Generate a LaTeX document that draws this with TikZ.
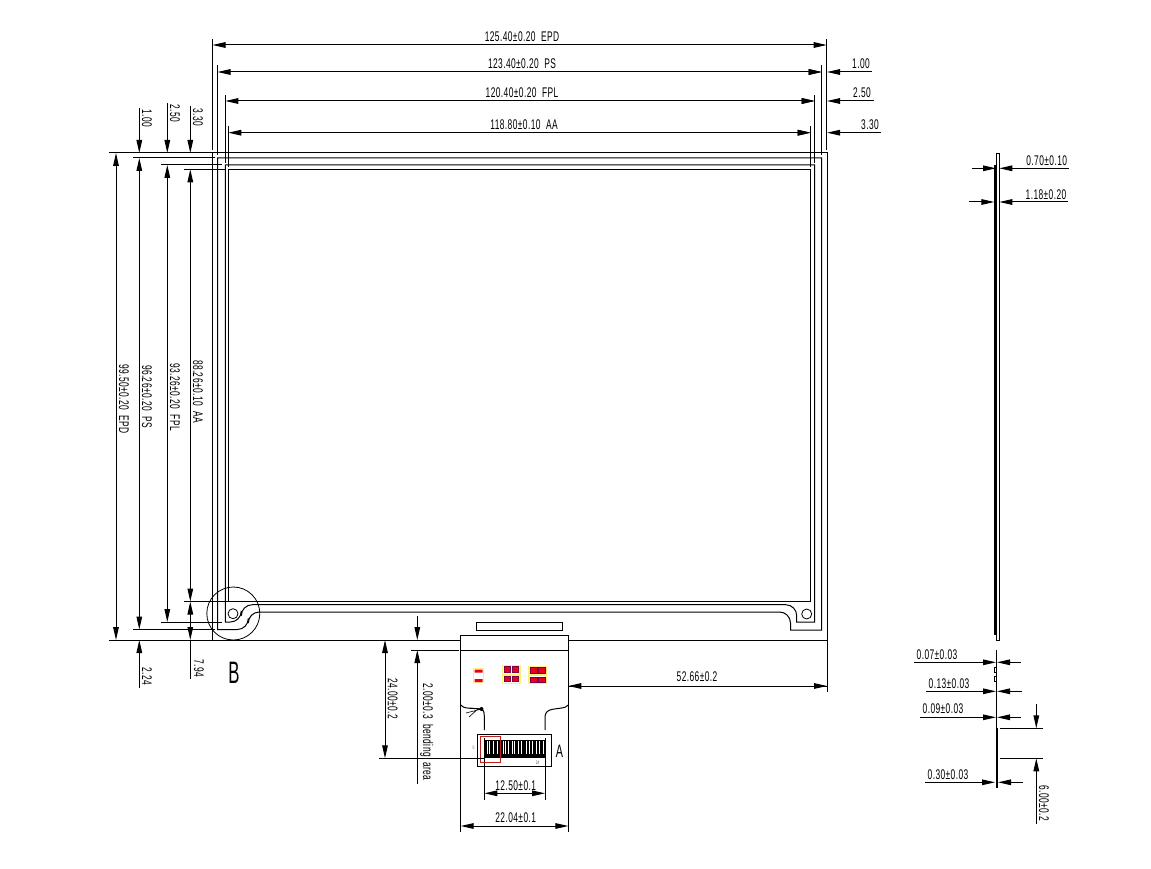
\documentclass[tikz,border=0pt]{standalone}
\usepackage{fontspec}
\usepackage{graphicx}
\setmainfont[FakeStretch=0.6,LetterSpace=3,WordSpace=2]{Liberation Sans}
\usetikzlibrary{arrows.meta}
\definecolor{padred}{RGB}{230,0,30}
\definecolor{padedge}{RGB}{120,0,70}
\definecolor{padglow}{RGB}{255,240,120}
\definecolor{markred}{RGB}{190,30,30}
\tikzset{
outline/.style={line width=1pt},
dimtext/.style={inner sep=0pt,font=\fontsize{14}{14}\selectfont},
dimdown/.style={dimtext,rotate=-90},
bigletter/.style={inner sep=0pt,font=\fontsize{31}{31}\selectfont},
padglowbox/.style={draw=padglow,line width=1.2pt},
padbox/.style={fill=padred,draw=padedge,line width=0.5pt},
}
\begin{document}
\begin{tikzpicture}[x=1pt,y=-1pt,>={Triangle[length=13pt,width=5.6pt]},line width=1pt]
\useasboundingbox (0,0) rectangle (1151,869);
% the panel outlines
\draw[outline] (212.5,153) -- (827,153) -- (827,640);
\draw[outline] (212.5,153) -- (212.5,640);
\draw[outline] (217.5,158) -- (821.7,158) -- (821.7,630) -- (790.5,630)
  [rounded corners=11pt] -- (790.5,612) -- (248.3,612) -- (248.3,629.5) [sharp corners] -- (217.5,629.5) -- cycle;
\draw[outline] (225.3,165) -- (814.7,165) -- (814.7,622) -- (796.7,622)
  [rounded corners=11pt] -- (796.7,604.7) -- (241.3,604.7) -- (241.3,622) [sharp corners] -- (225.3,622) -- cycle;
\draw[outline] (228.3,169.3) rectangle (810.7,601.5);
\node[draw,circle,minimum size=10pt,inner sep=0pt,line width=0.8pt] (holeL) at (233,613.7) {};
\node[draw,circle,minimum size=10pt,inner sep=0pt,line width=0.8pt] (holeR) at (806.7,614) {};
\node[draw,circle,minimum size=53pt,inner sep=0pt,line width=0.8pt] (detailB) at (233.3,613.5) {};
\node[bigletter] (letterB) at (234,672.5) {\scalebox{0.9}[1]{B}};
% the extension lines
\foreach \x/\ya/\yb in {212.5/39/150,217.5/65/155,225.3/95/163,228.3/126/167,814.7/95/163,810.7/126/167,821.7/65/155,826.7/39/150}
{
  \draw (\x,\ya) -- (\x,\yb);
}
\foreach \y/\xa/\xb in {153/109/212.5,158/133/215,165/161/222,169.3/184/226,640/109/460.7,629.5/133/215,622/161/222,601.5/184/228.3}
{
  \draw (\xa,\y) -- (\xb,\y);
}
\draw (568.3,640) -- (827,640) -- (827,692);
% the upper dimensions
\draw[<->] (212.5,45) -- (826.7,45);
\node[dimtext] (lblEPDw) at (522,37) {125.40±0.20 EPD};
\draw[<->] (217.5,72) -- (821.7,72);
\node[dimtext] (lblPSw) at (522,64) {123.40±0.20 PS};
\draw[<->] (225.3,101) -- (814.7,101);
\node[dimtext] (lblFPLw) at (522,93) {120.40±0.20 FPL};
\draw[<->] (228.3,132.7) -- (810.7,132.7);
\node[dimtext] (lblAAw) at (524,124.5) {118.80±0.10 AA};
\foreach \y/\xe in {72/871.7,101/874,132.7/881}
{
  \draw[->] (\xe,\y) -- (827,\y);
}
\foreach \y/\xt in {72/821.7,101/814.7,132.7/810.7}
{
  \draw[->] (\xt-13,\y) -- (\xt,\y);
}
\node[dimtext] (lblOneR) at (861,64) {1.00};
\node[dimtext] (lblTwoR) at (862,93) {2.50};
\node[dimtext] (lblThreeR) at (870,125) {3.30};
% the left dimensions
\draw[<->] (116,153) -- (116,640);
\node[dimdown] (lblEPDh) at (124,399) {99.50±0.20 EPD};
\draw[<->] (139.3,158) -- (139.3,629.5);
\node[dimdown] (lblPSh) at (147,396.5) {96.26±0.20 PS};
\draw[<->] (167.3,165) -- (167.3,622);
\node[dimdown] (lblFPLh) at (175,397) {93.26±0.20 FPL};
\draw[<->] (190.3,169.3) -- (190.3,601.5);
\node[dimdown] (lblAAh) at (198,391.5) {88.26±0.10 AA};
\foreach \x/\ye in {139.3/108,167.3/103,190.3/106}
{
  \draw[->] (\x,\ye) -- (\x,153);
}
\node[dimdown] (lblOneT) at (147,118) {1.00};
\node[dimdown] (lblTwoT) at (175,113) {2.50};
\node[dimdown] (lblThreeT) at (198,117) {3.30};
\draw[->] (139.3,688) -- (139.3,640);
\node[dimdown] (lblTwoB) at (147,676) {2.24};
\draw[<->] (190.3,640) -- (190.3,601.5);
\draw (190.3,640) -- (190.3,679);
\node[dimdown] (lblSevenB) at (199,668) {7.94};
% the tail
\draw[outline] (476.3,622.3) rectangle (562.7,630.7);
\draw (460.7,635) -- (568.3,635);
\draw (460.7,650) -- (568.3,650);
\draw (460.7,635) -- (460.7,832);
\draw (568.3,635) -- (568.3,832);
\draw (460.7,705) .. controls (463,709) and (472,708) .. (480,709) .. controls (483,709.5) and (484.3,711) .. (484.3,716) -- (484.3,730);
\draw (484.3,738) -- (484.3,799.5);
\draw (568.3,705) .. controls (566,709) and (555,708) .. (550,710) .. controls (546,711.5) and (545,714) .. (545,718) -- (545,730);
\draw (545,738) -- (545,799.5);
\fill (481.5,709) circle (2pt);
\draw[line width=0.6pt] (481.5,709) -- (470,708) (481.5,709) -- (466,713) (478,709) -- (469,717);
% the pads
\draw[padglowbox] (473.3,668.3) rectangle (483.3,682.7);
\fill[padred] (474.5,669.5) rectangle (482.7,672.5) (474.5,679) rectangle (482.7,682);
\foreach \ya/\yb in {665.3/674.3,675/683.3}
{
  \draw[padglowbox] (502.7,\ya) rectangle (520,\yb);
}
\foreach \ya/\yb in {666.3/674,675.7/683.3}
{
  \draw[padglowbox] (529,\ya) rectangle (546,\yb);
}
\foreach \xa/\ya/\xb/\yb in {504/666.7/510.7/672.2,512/666.7/518.7/672.2,504/676/510.7/681.7,512/676/518.7/681.7,530.3/667.5/537/673,538.3/667.5/545/673,530.3/677/537/682,538.3/677/545/682}
{
  \draw[padbox] (\xa,\ya) rectangle (\xb,\yb);
}
% the connector
\fill (485,740) rectangle (545,758);
\foreach \x in {487,489.5,493,497,503,505.5,508,512,514.5,518,521,526,529,532,536,539,543}
{
  \fill[white] (\x-0.5,741) rectangle (\x+0.5,754);
}
\draw[outline] (477.3,734.3) rectangle (551.7,766.7);
\draw[markred,line width=0.8pt] (480,736.3) rectangle (500.7,762.7);
\node[inner sep=0pt,font=\fontsize{5}{5}\selectfont,text=gray] (pinB) at (473.5,748) {B};
\node[inner sep=0pt,font=\fontsize{5}{5}\selectfont,text=black!70] (pinEnd) at (537.5,763) {24};
\node[bigletter,font=\fontsize{18}{18}\selectfont] (letterA) at (559.5,751.5) {A};
% the tail dimensions
\draw[->] (568.3,686) -- (827,686);
\draw[->] (827,686) -- (568.3,686);
\node[dimtext] (lblRight) at (697,677) {52.66±0.2};
\draw[<->] (385,640) -- (385,758.3);
\draw (379,758.3) -- (484.3,758.3);
\node[dimdown] (lblTail) at (392.7,699) {24.00±0.2};
\draw (411,650) -- (459,650);
\draw[->] (417.3,616) -- (417.3,640);
\draw[->] (417.3,784) -- (417.3,650);
\node[dimdown] (lblBend) at (426.7,732) {2.00±0.3 bending area};
\draw[<->] (484.3,793.3) -- (545,793.3);
\node[dimtext] (lblPitch) at (515.7,785.7) {12.50±0.1};
\draw[<->] (460.7,826) -- (568.3,826);
\node[dimtext] (lblWidth) at (515.7,818) {22.04±0.1};
% the side view
\draw[outline] (996.3,153.3) -- (999.3,153.3) -- (999.3,640.7) -- (996.3,640.7);
\draw[line width=3pt] (995.5,165) -- (995.5,635);
\draw (996.3,153.3) -- (996.3,640);
\draw (996.3,650) -- (996.3,786);
\draw[line width=1.8pt] (997,728) -- (997,788);
\draw[line width=0.7pt] (994.3,667.7) rectangle (996.3,672) (994.3,676.7) rectangle (996.3,681.3);
\foreach \y/\xa/\tipa/\tipb/\xb in {168.3/972/996/999.3/1069,202/969/994.3/999.3/1068,662.3/914/996/997/1020.7,691.3/926/996/997/1022,717.3/920/996/997/1020.7,782.3/925/995/998/1022.7}
{
  \draw[->] (\xa,\y) -- (\tipa,\y);
  \draw[->] (\xb,\y) -- (\tipb,\y);
}
\node[dimtext] (lblSideA) at (1046.7,160.5) {0.70±0.10};
\node[dimtext] (lblSideB) at (1046,195) {1.18±0.20};
\node[dimtext] (lblSideC) at (937,654.5) {0.07±0.03};
\node[dimtext] (lblSideD) at (949,683.5) {0.13±0.03};
\node[dimtext] (lblSideE) at (943,709) {0.09±0.03};
\node[dimtext] (lblSideF) at (948,774.5) {0.30±0.03};
\draw (1000,728.3) -- (1042.7,728.3);
\draw (1000,758.3) -- (1042.7,758.3);
\draw[->] (1036.3,704) -- (1036.3,728.3);
\draw[->] (1036.3,824) -- (1036.3,758.3);
\node[dimdown] (lblSideG) at (1044,803) {6.00±0.2};
\end{tikzpicture}
\end{document}
